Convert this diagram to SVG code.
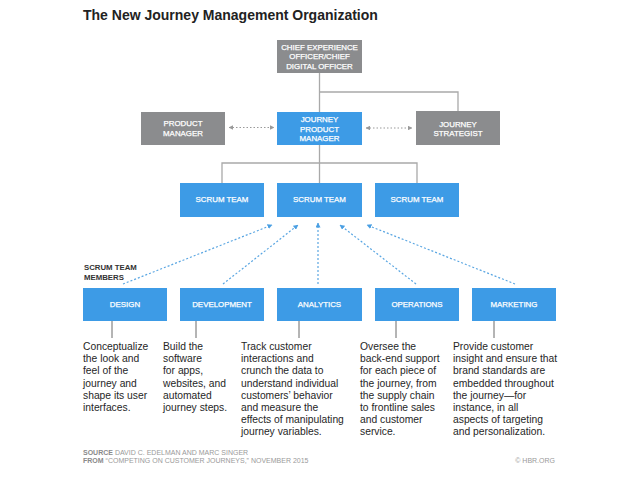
<svg xmlns="http://www.w3.org/2000/svg" width="638" height="479" viewBox="0 0 638 479">
<style>
.bg{fill:#ffffff}
.gray{fill:#8b8c8e}
.blue{fill:#3d9be6}
.lbl{font-family:"Liberation Sans",Arial,sans-serif;font-size:7.9px;fill:#ffffff;stroke:#ffffff;stroke-width:0.25;text-anchor:middle}
.body{font-family:"Liberation Sans",Arial,sans-serif;font-size:10.3px;fill:#262626}
.conn{stroke:#a9a9a9;stroke-width:1.3;fill:none}
.tick{stroke:#6a6a6a;stroke-width:1;fill:none}
.gdot{stroke:#9a9a9a;stroke-width:1.2;stroke-dasharray:1.5 2;fill:none}
.bdot{stroke:#5aa6e2;stroke-width:1.2;stroke-dasharray:2 2;fill:none}
.note{font-family:"Liberation Sans",Arial,sans-serif;font-size:7px;fill:#9a9a9a}
</style>
<defs>
<marker id="ba" viewBox="0 0 10 10" refX="9" refY="5" markerWidth="5" markerHeight="5" orient="auto" markerUnits="userSpaceOnUse">
<path d="M0,0 L10,5 L0,10 z" fill="#4a9fe3"/>
</marker>
<marker id="ga" viewBox="0 0 10 10" refX="9" refY="5" markerWidth="4.5" markerHeight="4.5" orient="auto-start-reverse" markerUnits="userSpaceOnUse">
<path d="M0,0 L10,5 L0,10 z" fill="#9a9a9a"/>
</marker>
</defs>
<rect class="bg" x="0" y="0" width="638" height="479"/>
<text x="83" y="20" font-family="'Liberation Sans',Arial,sans-serif" font-size="14" font-weight="bold" fill="#222222">The New Journey Management Organization</text>

<g id="connectors">
<path class="conn" d="M319.5,73 V112"/>
<path class="conn" d="M319.5,92 H458 V111"/>
<path class="conn" d="M319.5,145 V183"/>
<path class="conn" d="M222,183 V163 H417 V183"/>
<path class="gdot" d="M229,127.5 H274" marker-start="url(#ga)" marker-end="url(#ga)"/>
<path class="gdot" d="M366,128 H412" marker-start="url(#ga)" marker-end="url(#ga)"/>
<path class="bdot" d="M123,284 L272,225" marker-end="url(#ba)"/>
<path class="bdot" d="M223,284 L298,225" marker-end="url(#ba)"/>
<path class="bdot" d="M318,284 L318,223" marker-end="url(#ba)"/>
<path class="bdot" d="M416,284 L340,225" marker-end="url(#ba)"/>
<path class="bdot" d="M515,284 L367,225" marker-end="url(#ba)"/>
<path class="tick" d="M112,311 V338"/>
<path class="tick" d="M196,311 V338"/>
<path class="tick" d="M299,311 V338"/>
<path class="tick" d="M396,311 V338"/>
<path class="tick" d="M494,311 V338"/>
</g>

<g id="cxo">
<rect class="gray" x="277" y="40" width="85" height="33"/>
<text class="lbl" x="319.5" y="49.8">CHIEF EXPERIENCE</text>
<text class="lbl" x="319.5" y="59.3">OFFICER/CHIEF</text>
<text class="lbl" x="319.5" y="68.8">DIGITAL OFFICER</text>
</g>
<g id="product-manager">
<rect class="gray" x="141" y="112" width="84" height="33"/>
<text class="lbl" x="183" y="126">PRODUCT</text>
<text class="lbl" x="183" y="135.5">MANAGER</text>
</g>
<g id="journey-product-manager">
<rect class="blue" x="277" y="112" width="85" height="33"/>
<text class="lbl" x="319.5" y="122">JOURNEY</text>
<text class="lbl" x="319.5" y="131.5">PRODUCT</text>
<text class="lbl" x="319.5" y="141">MANAGER</text>
</g>
<g id="journey-strategist">
<rect class="gray" x="416" y="111" width="84" height="34"/>
<text class="lbl" x="458" y="126.5">JOURNEY</text>
<text class="lbl" x="458" y="136">STRATEGIST</text>
</g>
<g id="scrum-1">
<rect class="blue" x="180" y="183" width="84" height="34"/>
<text class="lbl" x="222" y="202">SCRUM TEAM</text>
</g>
<g id="scrum-2">
<rect class="blue" x="277" y="183" width="85" height="34"/>
<text class="lbl" x="319.5" y="202">SCRUM TEAM</text>
</g>
<g id="scrum-3">
<rect class="blue" x="375" y="183" width="84" height="34"/>
<text class="lbl" x="417" y="202">SCRUM TEAM</text>
</g>

<g id="members-label">
<text x="84" y="270" font-family="'Liberation Sans',Arial,sans-serif" font-size="7.8" font-weight="bold" fill="#333333">SCRUM TEAM</text>
<text x="84" y="280" font-family="'Liberation Sans',Arial,sans-serif" font-size="7.8" font-weight="bold" fill="#333333">MEMBERS</text>
</g>

<g id="design">
<rect class="blue" x="83" y="288" width="84" height="33"/>
<text class="lbl" x="125" y="307">DESIGN</text>
<text class="body" x="83" y="350"><tspan x="83">Conceptualize</tspan><tspan x="83" dy="12.2">the look and</tspan><tspan x="83" dy="12.2">feel of the</tspan><tspan x="83" dy="12.2">journey and</tspan><tspan x="83" dy="12.2">shape its user</tspan><tspan x="83" dy="12.2">interfaces.</tspan></text>
</g>
<g id="development">
<rect class="blue" x="180" y="288" width="84" height="33"/>
<text class="lbl" x="222" y="307">DEVELOPMENT</text>
<text class="body" x="163" y="350"><tspan x="163">Build the</tspan><tspan x="163" dy="12.2">software</tspan><tspan x="163" dy="12.2">for apps,</tspan><tspan x="163" dy="12.2">websites, and</tspan><tspan x="163" dy="12.2">automated</tspan><tspan x="163" dy="12.2">journey steps.</tspan></text>
</g>
<g id="analytics">
<rect class="blue" x="277" y="288" width="85" height="33"/>
<text class="lbl" x="319.5" y="307">ANALYTICS</text>
<text class="body" x="241" y="350"><tspan x="241">Track customer</tspan><tspan x="241" dy="12.2">interactions and</tspan><tspan x="241" dy="12.2">crunch the data to</tspan><tspan x="241" dy="12.2">understand individual</tspan><tspan x="241" dy="12.2">customers’ behavior</tspan><tspan x="241" dy="12.2">and measure the</tspan><tspan x="241" dy="12.2">effects of manipulating</tspan><tspan x="241" dy="12.2">journey variables.</tspan></text>
</g>
<g id="operations">
<rect class="blue" x="375" y="288" width="84" height="33"/>
<text class="lbl" x="417" y="307">OPERATIONS</text>
<text class="body" x="360" y="350"><tspan x="360">Oversee the</tspan><tspan x="360" dy="12.2">back-end support</tspan><tspan x="360" dy="12.2">for each piece of</tspan><tspan x="360" dy="12.2">the journey, from</tspan><tspan x="360" dy="12.2">the supply chain</tspan><tspan x="360" dy="12.2">to frontline sales</tspan><tspan x="360" dy="12.2">and customer</tspan><tspan x="360" dy="12.2">service.</tspan></text>
</g>
<g id="marketing">
<rect class="blue" x="472" y="288" width="84" height="33"/>
<text class="lbl" x="514" y="307">MARKETING</text>
<text class="body" x="453" y="350"><tspan x="453">Provide customer</tspan><tspan x="453" dy="12.2">insight and ensure that</tspan><tspan x="453" dy="12.2">brand standards are</tspan><tspan x="453" dy="12.2">embedded throughout</tspan><tspan x="453" dy="12.2">the journey—for</tspan><tspan x="453" dy="12.2">instance, in all</tspan><tspan x="453" dy="12.2">aspects of targeting</tspan><tspan x="453" dy="12.2">and personalization.</tspan></text>
</g>

<g id="source">
<text class="note" x="83" y="455"><tspan font-weight="bold" fill="#8a8a8a">SOURCE</tspan>  DAVID C. EDELMAN AND MARC SINGER</text>
<text class="note" x="83" y="462.5"><tspan font-weight="bold" fill="#8a8a8a">FROM</tspan>  “COMPETING ON CUSTOMER JOURNEYS,” NOVEMBER 2015</text>
<text class="note" x="555" y="462.5" text-anchor="end">© HBR.ORG</text>
</g>
</svg>
